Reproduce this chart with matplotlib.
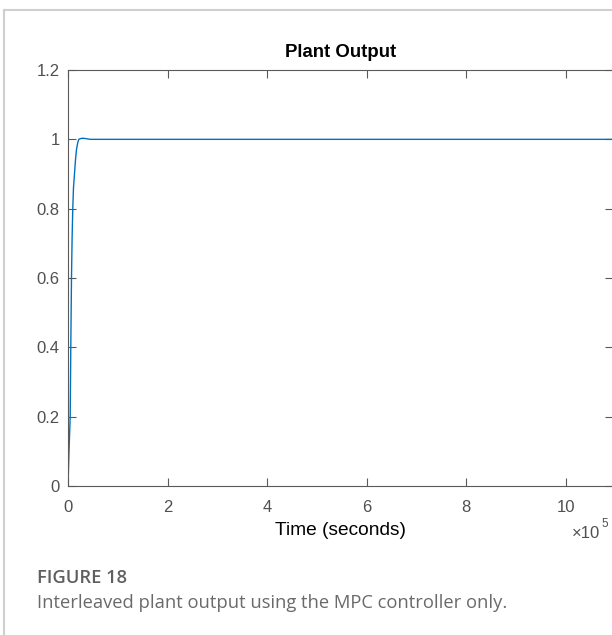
import matplotlib
matplotlib.use("Agg")
import matplotlib.pyplot as plt
from matplotlib.lines import Line2D
from matplotlib.ticker import FuncFormatter

# Data (time in seconds, plant output)
time_s = [0, 2000, 4400, 5600, 7000, 8300, 9600, 11000, 13000, 15000, 17000,
          19500, 21700, 25000, 28000, 31000, 36000, 45000, 60000, 100000,
          500000, 1094500]
output = [0, 0.10, 0.20, 0.40, 0.60, 0.72, 0.80, 0.86, 0.90, 0.94, 0.97,
          0.99, 1.0, 1.002, 1.003, 1.003, 1.002, 1.0, 1.0, 1.0, 1.0, 1.0]

x_ticks = [0, 2e5, 4e5, 6e5, 8e5, 10e5]
y_ticks = [0, 0.2, 0.4, 0.6, 0.8, 1.0, 1.2]
y_tick_labels = ["0", "0.2", "0.4", "0.6", "0.8", "1", "1.2"]

title = "Plant Output"
xlabel = "Time (seconds)"
caption_head = "FIGURE 18"
caption_text = "Interleaved plant output using the MPC controller only."

W, H = 612, 635
fig = plt.figure(figsize=(W / 100, H / 100), dpi=100)
plt.rcParams['font.family'] = ['Liberation Sans', 'DejaVu Sans']

ax_left, ax_right, ax_top, ax_bottom = 68, 613, 70, 486
ax = fig.add_axes([ax_left / W, 1 - ax_bottom / H,
                   (ax_right - ax_left) / W, (ax_bottom - ax_top) / H])

ax.plot(time_s, output, color="#0072BD", lw=1.0, clip_on=True)
ax.set_xlim(0, 1.0945e6)
ax.set_ylim(0, 1.2)
ax.set_xticks(x_ticks)
ax.xaxis.set_major_formatter(FuncFormatter(lambda v, p: f"{v/1e5:g}"))
ax.set_yticks(y_ticks)
ax.set_yticklabels(y_tick_labels)

axis_col = "#5a5a5a"
label_col = "#505050"
for s in ax.spines.values():
    s.set_color(axis_col)
    s.set_linewidth(0.8)
ax.tick_params(direction="in", length=5.5, width=0.8, color=axis_col,
               labelcolor=label_col, labelsize=12, top=True, right=True)
ax.tick_params(axis="x", pad=10)
ax.tick_params(axis="y", pad=6)
ax.set_title(title, fontsize=13.4, fontweight="bold", color="black", pad=9.5)
ax.set_xlabel(xlabel, fontsize=13.8, color="black", labelpad=5)

fig.text(572 / W, 1 - 534 / H, "\u00d710", fontsize=12,
         color=label_col, ha="left", va="center")
fig.text(601 / W, 1 - 524 / H, "5", fontsize=8.5, color=label_col,
         ha="left", va="center")

# Frame lines of the figure panel
frame_col = "#cfcfcf"
fig.add_artist(Line2D([4 / W, 4 / W], [0, 1 - 10 / H], transform=fig.transFigure,
                      color=frame_col, lw=1.5))
fig.add_artist(Line2D([4 / W, 1], [1 - 10 / H, 1 - 10 / H], transform=fig.transFigure,
                      color=frame_col, lw=1.5))

fig.text(37 / W, 1 - 578 / H, caption_head, fontsize=13.2, fontweight="semibold",
         family=["Open Sans", "DejaVu Sans"], color="#5f5f5f", ha="left", va="center")
fig.text(37 / W, 1 - 603 / H, caption_text, fontsize=13.2,
         family=["Open Sans", "DejaVu Sans"], color="#6a6a6a", ha="left", va="center")

fig.savefig("out.png", dpi=100)
